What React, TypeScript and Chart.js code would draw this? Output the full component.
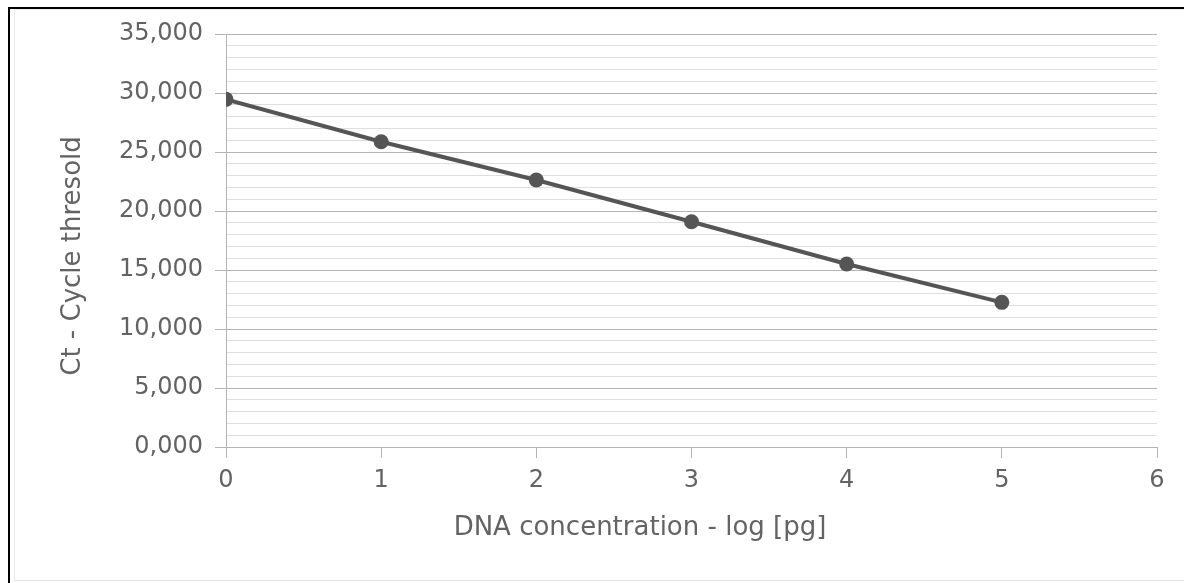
import React, { useEffect, useRef } from 'react';
import { Chart, registerables } from 'chart.js';

Chart.register(...registerables);

// ---- data ----
const concentrationLog = [0, 1, 2, 3, 4, 5];
const ctValues = [29.46, 25.87, 22.63, 19.09, 15.51, 12.26];
const xTitle = 'DNA concentration - log [pg]';
const yTitle = 'Ct - Cycle thresold';
const yMin = 0;
const yMax = 35;
const yMajorStep = 5;
const yMinorStep = 1;
const xMin = 0;
const xMax = 6;
const xStep = 1;

const FONT = "'DejaVu Sans', sans-serif";
const TEXT = '#636363';
const AXIS = '#b3b3b3';
const MINOR = '#dedede';
const LINE = '#555555';

const formatCt = (v: number) => v.toFixed(3).replace('.', ',');

const titlesPlugin = {
  id: 'diagramTitles',
  afterDraw(chart: any) {
    const { ctx } = chart;
    ctx.save();
    ctx.fillStyle = TEXT;
    ctx.font = `26px ${FONT}`;
    ctx.textAlign = 'center';
    ctx.textBaseline = 'middle';
    ctx.fillText(xTitle, 640, 528);
    ctx.translate(73, 256);
    ctx.rotate(-Math.PI / 2);
    ctx.fillText(yTitle, 0, 0);
    ctx.restore();
  },
};

export default function App() {
  const canvasRef = useRef<HTMLCanvasElement | null>(null);

  useEffect(() => {
    if (!canvasRef.current) return;
    const chart = new Chart(canvasRef.current, {
      type: 'scatter',
      data: {
        datasets: [
          {
            data: concentrationLog.map((x, i) => ({ x, y: ctValues[i] })),
            showLine: true,
            borderColor: LINE,
            backgroundColor: LINE,
            borderWidth: 4,
            pointRadius: 7.5,
            pointBorderWidth: 0,
            pointBackgroundColor: LINE,
          },
        ],
      },
      options: {
        animation: false,
        responsive: false,
        layout: { padding: { left: 0, top: 34, right: 27, bottom: 0 } },
        plugins: {
          legend: { display: false },
          tooltip: { enabled: false },
        },
        scales: {
          x: {
            type: 'linear',
            min: xMin,
            max: xMax,
            ticks: {
              stepSize: xStep,
              color: TEXT,
              font: { family: FONT, size: 24 },
              padding: 8,
            },
            grid: {
              drawOnChartArea: false,
              drawTicks: true,
              tickLength: 11,
              color: AXIS,
              tickColor: AXIS,
            },
            border: { display: true, color: AXIS, width: 1 },
            afterFit(scale: any) {
              scale.height = 136;
            },
          },
          y: {
            type: 'linear',
            min: yMin,
            max: yMax,
            ticks: {
              stepSize: yMinorStep,
              autoSkip: false,
              color: TEXT,
              font: { family: FONT, size: 24 },
              padding: 12,
              callback: (v: any) => (Number(v) % yMajorStep === 0 ? formatCt(Number(v)) : ''),
            },
            grid: {
              tickLength: 11,
              color: (c: any) => (c.tick && c.tick.value % yMajorStep === 0 ? AXIS : MINOR),
              tickColor: (c: any) => (c.tick && c.tick.value % yMajorStep === 0 ? AXIS : 'rgba(0,0,0,0)'),
            },
            border: { display: true, color: AXIS, width: 1 },
            afterFit(scale: any) {
              scale.width = 226;
            },
          },
        },
      },
      plugins: [titlesPlugin],
    });
    return () => chart.destroy();
  }, []);

  return (
    <div style={{ position: 'absolute', left: 0, top: 0, width: 1184, height: 583, background: '#fff', overflow: 'hidden' }}>
      <canvas ref={canvasRef} width={1184} height={583} style={{ display: 'block', width: 1184, height: 583 }} />
      <div
        style={{
          position: 'absolute',
          left: 8,
          top: 7,
          width: 1176,
          height: 576,
          boxSizing: 'border-box',
          borderTop: '2px solid #000',
          borderLeft: '2px solid #000',
          pointerEvents: 'none',
        }}
      />
      <div
        style={{
          position: 'absolute',
          left: 14,
          top: 9,
          width: 1170,
          height: 572,
          boxSizing: 'border-box',
          borderLeft: '1px solid #ececec',
          borderTop: '1px solid #ececec',
          borderBottom: '1px solid #e2e2e2',
          pointerEvents: 'none',
        }}
      />
    </div>
  );
}
